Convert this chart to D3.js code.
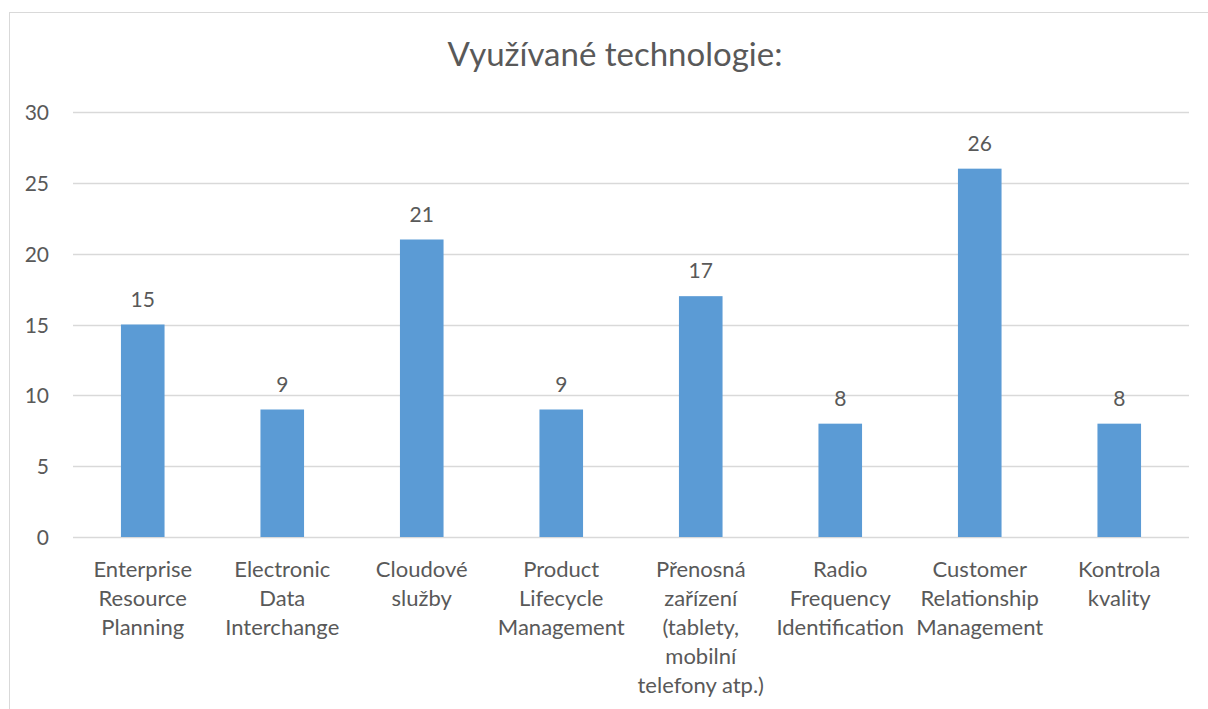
<!DOCTYPE html>
<html>
<head>
<meta charset="utf-8">
<script src="https://cdn.jsdelivr.net/npm/d3@7"></script>
<style>
  html, body { margin: 0; padding: 0; background: #fff; }
  svg { display: block; }
  text { font-family: "Lato", "Open Sans", sans-serif; fill: #595959; }
</style>
</head>
<body>
<svg id="chart" width="1208" height="709"></svg>
<script>
const title = "Využívané technologie:";
const categories = [
  "Enterprise\nResource\nPlanning",
  "Electronic\nData\nInterchange",
  "Cloudové\nslužby",
  "Product\nLifecycle\nManagement",
  "Přenosná\nzařízení\n(tablety,\nmobilní\ntelefony atp.)",
  "Radio\nFrequency\nIdentification",
  "Customer\nRelationship\nManagement",
  "Kontrola\nkvality"
];
const values = [15, 9, 21, 9, 17, 8, 26, 8];
const yTicks = [0, 5, 10, 15, 20, 25, 30];

const svg = d3.select("#chart");
const W = 1208, H = 709;
const margin = { left: 73, right: 1208 - 1189, top: 112, bottom: 709 - 537 };

// outer chart border (cropped at right & bottom)
svg.append("rect")
  .attr("x", 9.5).attr("y", 12.5)
  .attr("width", 1300).attr("height", 800)
  .attr("fill", "none").attr("stroke", "#d9d9d9").attr("stroke-width", 1);

const x = d3.scaleBand()
  .domain(categories)
  .range([margin.left, W - margin.right])
  .paddingInner(0.6875).paddingOuter(0.34375);

const y = d3.scaleLinear()
  .domain([0, 30])
  .range([H - margin.bottom, margin.top]);

// gridlines
svg.append("g")
  .selectAll("line")
  .data(yTicks)
  .join("line")
  .attr("x1", margin.left).attr("x2", W - margin.right)
  .attr("y1", d => Math.round(y(d)) + 0.5).attr("y2", d => Math.round(y(d)) + 0.5)
  .attr("stroke", "#d9d9d9").attr("stroke-width", 1.3);

// y axis labels
const yAxis = d3.axisLeft(y).tickValues(yTicks).tickSize(0).tickPadding(0);
const yG = svg.append("g")
  .attr("transform", `translate(${49},0)`)
  .call(yAxis);
yG.select(".domain").remove();
yG.selectAll("text")
  .attr("font-size", 21)
  .attr("font-family", "Lato, sans-serif")
  .attr("fill", "#595959")
  .attr("dy", "0.36em");

// bars
svg.append("g")
  .selectAll("rect")
  .data(values)
  .join("rect")
  .attr("x", (d, i) => x(categories[i]))
  .attr("width", x.bandwidth())
  .attr("y", d => y(d))
  .attr("height", d => y(0) - y(d))
  .attr("fill", "#5b9bd5");

// value labels
svg.append("g")
  .selectAll("text")
  .data(values)
  .join("text")
  .attr("x", (d, i) => x(categories[i]) + x.bandwidth() / 2)
  .attr("y", d => y(d) - 18)
  .attr("text-anchor", "middle")
  .attr("font-size", 21)
  .text(d => d);

// x category labels
const xl = svg.append("g")
  .selectAll("text")
  .data(categories)
  .join("text")
  .attr("x", d => x(d) + x.bandwidth() / 2)
  .attr("y", 577)
  .attr("text-anchor", "middle")
  .attr("font-size", 22);
xl.each(function(d) {
  const t = d3.select(this);
  const cx = x(d) + x.bandwidth() / 2;
  d.split("\n").forEach((line, i) => {
    t.append("tspan").attr("x", cx).attr("y", 577 + i * 29).text(line);
  });
});

// title
svg.append("text")
  .attr("x", 615).attr("y", 66)
  .attr("text-anchor", "middle")
  .attr("font-size", 33)
  .text(title);
</script>
</body>
</html>
